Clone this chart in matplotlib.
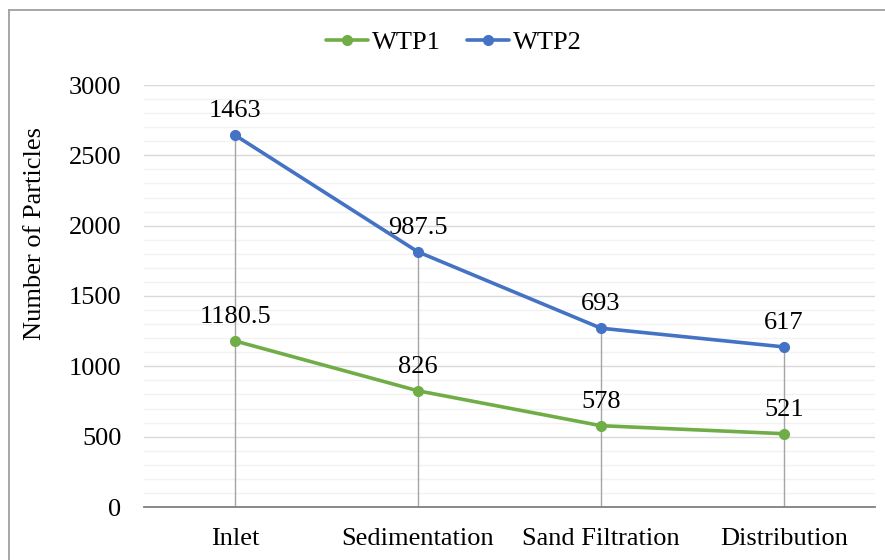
import matplotlib
matplotlib.use("Agg")
import matplotlib.pyplot as plt
from matplotlib.lines import Line2D
from matplotlib.ticker import MultipleLocator
import numpy as np

categories = ["Inlet", "Sedimentation", "Sand Filtration", "Distribution"]
wtp1 = [1180.5, 826, 578, 521]
wtp2 = [1463, 987.5, 693, 617]
wtp1_labels = ["1180.5", "826", "578", "521"]
wtp2_labels = ["1463", "987.5", "693", "617"]

plt.rcParams['font.family'] = ['Liberation Serif', 'DejaVu Serif']
FS = 19

fig = plt.figure(figsize=(8.85, 5.6), dpi=100)
ax = fig.add_axes([143.5/885, 53/560, 732/885, 422/560])

x = np.arange(len(categories))
s1 = np.array(wtp1)
s2 = s1 + np.array(wtp2)  # stacked line

green = "#70AD47"
blue = "#4472C4"

# drop lines
for xi, top in zip(x, s2):
    ax.plot([xi, xi], [0, top], color="#A5A5A5", lw=1.0, zorder=2)

ax.plot(x, s1, color=green, lw=2.6, marker="o", ms=7, label="WTP1", zorder=4,
        solid_capstyle="round")
ax.plot(x, s2, color=blue, lw=2.6, marker="o", ms=7, label="WTP2", zorder=4,
        solid_capstyle="round")

for xi, yi, lab in zip(x, s1, wtp1_labels):
    ax.annotate(lab, (xi, yi), xytext=(0, 13), textcoords="offset points",
                ha="center", va="baseline", fontsize=FS)
for xi, yi, lab in zip(x, s2, wtp2_labels):
    ax.annotate(lab, (xi, yi), xytext=(0, 13), textcoords="offset points",
                ha="center", va="baseline", fontsize=FS)

ax.set_xlim(-0.5, 3.5)
ax.set_ylim(0, 3000)
ax.yaxis.set_major_locator(MultipleLocator(500))
ax.yaxis.set_minor_locator(MultipleLocator(100))
ax.set_xticks(x)
ax.set_xticklabels(categories, fontsize=FS)
ax.tick_params(axis="y", labelsize=FS, length=0, pad=16, which="both")
ax.tick_params(axis="x", length=0, pad=15)
ax.grid(axis="y", which="major", color="#D9D9D9", lw=1.0, zorder=0)
ax.grid(axis="y", which="minor", color="#F2F2F2", lw=1.0, zorder=0)
for sp in ["top", "right", "left"]:
    ax.spines[sp].set_visible(False)
ax.spines["bottom"].set_color("#7F7F7F")
ax.spines["bottom"].set_linewidth(1.3)
ax.set_axisbelow(True)

ax.set_ylabel("Number of Particles", fontsize=FS, va="center")
ax.yaxis.set_label_coords((35 - 143.5) / 732, 0.647)

leg = fig.legend(loc="center", bbox_to_anchor=(454/885, 1 - 42/560), ncol=2,
                 frameon=False, fontsize=FS, handlelength=1.6, columnspacing=1.0,
                 handletextpad=0.15)

# chart border (only top and left visible)
fig.add_artist(Line2D([8.5/885, 8.5/885], [0, 1 - 9.5/560], transform=fig.transFigure,
                      color="#A0A0A0", lw=1.3))
fig.add_artist(Line2D([8.5/885, 1], [1 - 9.5/560, 1 - 9.5/560], transform=fig.transFigure,
                      color="#A0A0A0", lw=1.3))

fig.savefig("out.png", dpi=100)
